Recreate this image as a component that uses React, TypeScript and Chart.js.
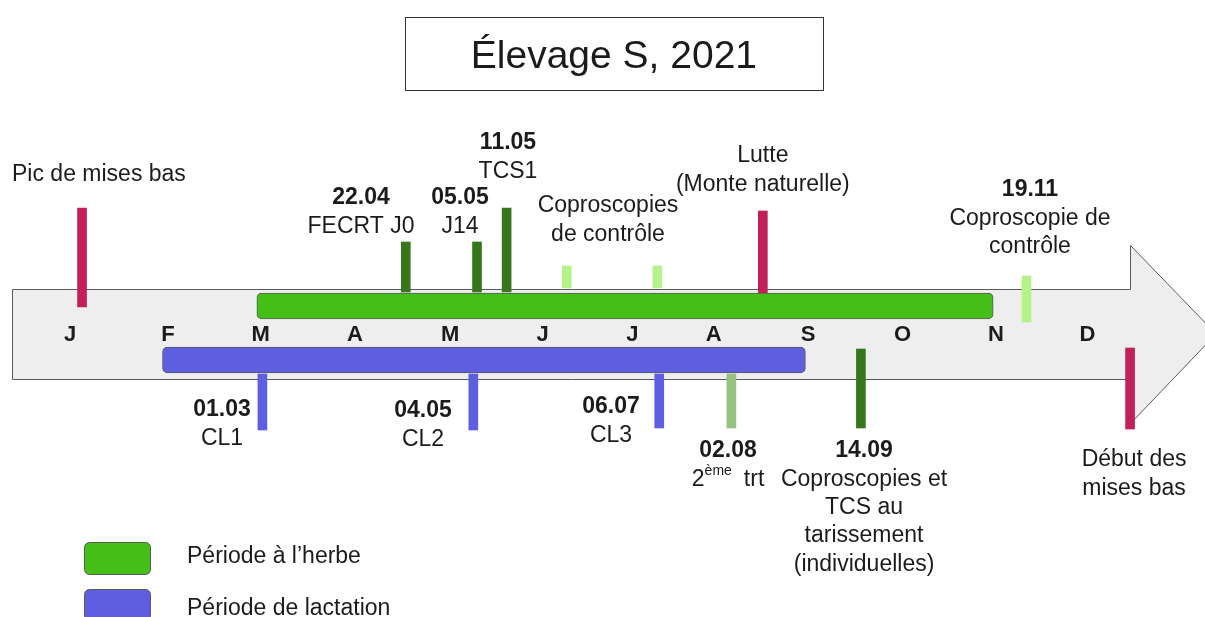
import React, { useEffect, useRef } from 'react';
import { Chart, registerables } from 'chart.js';

Chart.register(...registerables);

// ---------- DATA (x in month units: 0 = janvier, y in arbitrary level units) ----------
const TITLE = 'Élevage S, 2021';

const monthLabels = ['J', 'F', 'M', 'A', 'M', 'J', 'J', 'A', 'S', 'O', 'N', 'D'];
const monthPos = [0, 1.06, 2.06, 3.08, 4.11, 5.11, 6.08, 6.96, 7.98, 9.0, 10.01, 11.0];

const periodLabels = ['Période à l\u2019herbe', 'Période de lactation'];
const periodStart = [2.02, 1.0];
const periodEnd = [9.98, 7.95];
const periodLevel = [28, -26];
const periodColors = ['#43bf17', '#5e5ee0'];

const markerPos = [0.13, 3.63, 4.4, 4.72, 5.37, 6.35, 7.49, 10.34, 11.46, 8.55, 2.08, 4.36, 6.37, 7.15];
const markerLow = [27, 42, 42, 42, 46, 46, 41, 12, -95, -94, -96, -96, -94, -94];
const markerHigh = [126, 92, 92, 126, 68, 68, 123, 58, -14, -15, -40, -40, -40, -40];
const markerColors = [
  '#c2205a', '#38761d', '#38761d', '#38761d', '#b5f38a', '#b5f38a', '#c2205a',
  '#b5f38a', '#c2205a', '#38761d', '#5e5ee0', '#5e5ee0', '#5e5ee0', '#93c47d',
];

const noteX = [-0.627, 3.146, 4.216, 4.735, 5.816, 7.49, 10.378, 1.643, 3.816, 5.849, 7.114, 8.584, 11.503];
const noteY = [159, 136, 136, 191, 128, 178, 144, -76, -77, -73, -117, -117, -126];
const noteDate = ['', '22.04', '05.05', '11.05', '', '', '19.11', '01.03', '04.05', '06.07', '02.08', '14.09', ''];
const noteLines = [
  ['Pic de mises bas'],
  ['FECRT J0'],
  ['J14'],
  ['TCS1'],
  ['Coproscopies', 'de contrôle'],
  ['Lutte', '(Monte naturelle)'],
  ['Coproscopie de', 'contrôle'],
  ['CL1'],
  ['CL2'],
  ['CL3'],
  ['2|ème|trt'],
  ['Coproscopies et', 'TCS au', 'tarissement', '(individuelles)'],
  ['Début des', 'mises bas'],
];

// arrow shape (month units / level units)
const arrowStart = -0.627;
const arrowNeck = 11.46;
const arrowTip = 12.39;
const arrowBodyHalf = 45;
const arrowHeadHalf = 89;

// title box
const titleBox = [3.62, 8.14, 317, 244];
const titlePos = [5.88, 277];

// legend
const legendSwatchX = [0.151, 0.865];
const legendRowY = [-224, -271];
const legendTextY = [-223, -275];
const legendSwatchHalf = 16;
const legendTextX = 1.265;

const FONT = "'Liberation Sans', Arial, sans-serif";
const TEXT = '#1b1b1b';

function roundRect(ctx: CanvasRenderingContext2D, x: number, y: number, w: number, h: number, r: number) {
  ctx.beginPath();
  ctx.moveTo(x + r, y);
  ctx.lineTo(x + w - r, y);
  ctx.arcTo(x + w, y, x + w, y + r, r);
  ctx.lineTo(x + w, y + h - r);
  ctx.arcTo(x + w, y + h, x + w - r, y + h, r);
  ctx.lineTo(x + r, y + h);
  ctx.arcTo(x, y + h, x, y + h - r, r);
  ctx.lineTo(x, y + r);
  ctx.arcTo(x, y, x + r, y, r);
  ctx.closePath();
}

const decor = {
  id: 'decor',
  beforeDatasetsDraw(chart: any) {
    const { ctx } = chart;
    const xs = chart.scales.x;
    const ys = chart.scales.y;
    const px = (u: number) => xs.getPixelForValue(u);
    const py = (v: number) => ys.getPixelForValue(v);
    const sx = (u: number) => Math.round(px(u)) + 0.5;
    const sy = (v: number) => Math.round(py(v)) + 0.5;
    ctx.save();
    // arrow
    ctx.beginPath();
    ctx.moveTo(sx(arrowStart), sy(arrowBodyHalf));
    ctx.lineTo(sx(arrowNeck), sy(arrowBodyHalf));
    ctx.lineTo(sx(arrowNeck), sy(arrowHeadHalf));
    ctx.lineTo(px(arrowTip), py(0));
    ctx.lineTo(sx(arrowNeck), sy(-arrowHeadHalf));
    ctx.lineTo(sx(arrowNeck), sy(-arrowBodyHalf));
    ctx.lineTo(sx(arrowStart), sy(-arrowBodyHalf));
    ctx.closePath();
    ctx.fillStyle = '#eeeeee';
    ctx.fill();
    ctx.strokeStyle = '#5a5a5a';
    ctx.lineWidth = 1;
    ctx.stroke();
    // month letters
    ctx.fillStyle = TEXT;
    ctx.font = `bold 22px ${FONT}`;
    ctx.textAlign = 'center';
    ctx.textBaseline = 'middle';
    monthLabels.forEach((m, i) => {
      ctx.fillText(m, px(monthPos[i]), py(-1));
    });
    ctx.restore();
  },
  afterDatasetsDraw(chart: any) {
    const { ctx } = chart;
    const xs = chart.scales.x;
    const ys = chart.scales.y;
    const px = (u: number) => xs.getPixelForValue(u);
    const py = (v: number) => ys.getPixelForValue(v);
    ctx.save();
    // title box
    const bx0 = Math.round(px(titleBox[0])) + 0.5;
    const bx1 = Math.round(px(titleBox[1])) + 0.5;
    const by0 = Math.round(py(titleBox[2])) + 0.5;
    const by1 = Math.round(py(titleBox[3])) + 0.5;
    ctx.strokeStyle = '#333333';
    ctx.lineWidth = 1;
    ctx.strokeRect(bx0, by0, bx1 - bx0, by1 - by0);
    ctx.fillStyle = TEXT;
    ctx.font = `39px ${FONT}`;
    ctx.textAlign = 'center';
    ctx.textBaseline = 'middle';
    ctx.fillText(TITLE, px(titlePos[0]), py(titlePos[1]));

    // notes
    const LH = 28.3;
    noteX.forEach((u, i) => {
      const align = i === 0 ? 'left' : 'center';
      ctx.textAlign = align;
      const x = px(u);
      let y = py(noteY[i]);
      if (noteDate[i]) {
        ctx.font = `bold 23px ${FONT}`;
        ctx.fillText(noteDate[i], x, y);
        y += LH;
      }
      noteLines[i].forEach((line) => {
        if (line.includes('|')) {
          const [a, sup, b] = line.split('|');
          ctx.font = `23px ${FONT}`;
          const wa = ctx.measureText(a).width;
          const wb = ctx.measureText(b).width;
          ctx.font = `14px ${FONT}`;
          const ws = ctx.measureText(sup).width;
          const gap = 12;
          const total = wa + ws + gap + wb;
          let cx = x - total / 2;
          ctx.textAlign = 'left';
          ctx.font = `23px ${FONT}`;
          ctx.fillText(a, cx, y);
          cx += wa;
          ctx.font = `14px ${FONT}`;
          ctx.fillText(sup, cx, y - 8);
          cx += ws + gap;
          ctx.font = `23px ${FONT}`;
          ctx.fillText(b, cx, y);
          ctx.textAlign = align;
        } else {
          ctx.font = `23px ${FONT}`;
          ctx.fillText(line, x, y);
        }
        y += LH;
      });
    });

    // legend
    periodLabels.forEach((lab, i) => {
      const x0 = Math.round(px(legendSwatchX[0])) + 0.5;
      const x1 = Math.round(px(legendSwatchX[1])) + 0.5;
      const y0 = Math.round(py(legendRowY[i] + legendSwatchHalf)) + 0.5;
      const y1 = Math.round(py(legendRowY[i] - legendSwatchHalf)) + 0.5;
      roundRect(ctx, x0, y0, x1 - x0, y1 - y0, 5);
      ctx.fillStyle = periodColors[i];
      ctx.fill();
      ctx.strokeStyle = '#5a5a5a';
      ctx.stroke();
      ctx.fillStyle = TEXT;
      ctx.font = `23px ${FONT}`;
      ctx.textAlign = 'left';
      ctx.fillText(lab, px(legendTextX), py(legendTextY[i]));
    });
    ctx.restore();
  },
};

export default function App() {
  const ref = useRef<HTMLCanvasElement | null>(null);
  useEffect(() => {
    if (!ref.current) return;
    const chart = new Chart(ref.current, {
      type: 'bar',
      data: {
        datasets: [
          {
            type: 'bar',
            label: 'periodes',
            indexAxis: 'y',
            data: periodLabels.map((_, i) => ({ y: periodLevel[i], x: [periodStart[i], periodEnd[i]] })),
            backgroundColor: periodColors,
            borderColor: '#5a5a5a',
            borderWidth: 1,
            borderRadius: 5,
            borderSkipped: false,
            barThickness: 26,
            grouped: false,
          } as any,
          {
            type: 'bar',
            label: 'evenements',
            data: markerPos.map((u, i) => ({ x: u, y: [markerLow[i], markerHigh[i]] })),
            backgroundColor: markerColors,
            borderWidth: 0,
            barThickness: 9,
            grouped: false,
          } as any,
        ],
      },
      options: {
        animation: false,
        responsive: true,
        maintainAspectRatio: false,
        events: [],
        layout: { padding: 0 },
        scales: {
          x: { type: 'linear', display: false, offset: false, grace: 0, bounds: 'ticks', min: -0.7568, max: 12.27 },
          y: { type: 'linear', display: false, offset: false, grace: 0, min: -283, max: 334 },
        },
        plugins: {
          legend: { display: false },
          tooltip: { enabled: false },
          title: { display: false },
        },
      },
      plugins: [decor],
    });
    return () => chart.destroy();
  }, []);
  return (
    <div style={{ position: 'fixed', left: 0, top: 0, width: 1205, height: 617, background: '#ffffff' }}>
      <canvas ref={ref} />
    </div>
  );
}
